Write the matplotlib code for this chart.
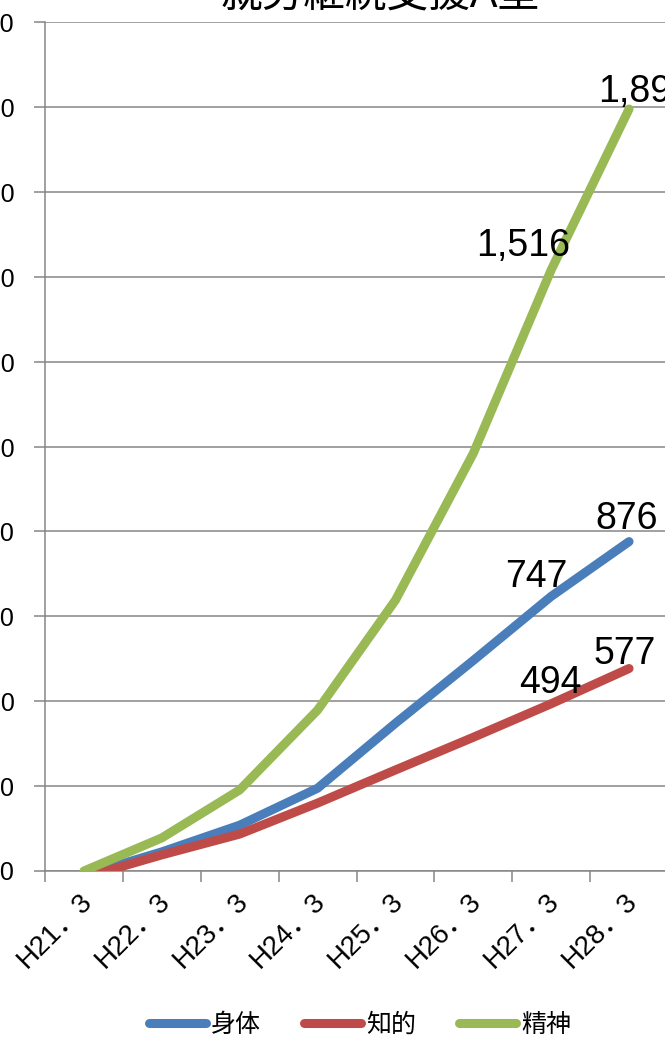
import matplotlib
matplotlib.use("Agg")
import matplotlib.pyplot as plt
import matplotlib.transforms as mtransforms
from matplotlib.ticker import FixedLocator, FuncFormatter

plt.rcParams['font.family'] = ['Liberation Sans', 'Noto Sans CJK JP', 'DejaVu Sans']

# datos
categorias = ['H21．3', 'H22．3', 'H23．3', 'H24．3', 'H25．3', 'H26．3', 'H27．3', 'H28．3']
shintai = [90, 145, 208, 295, 448, 596, 747, 876]
chiteki = [85, 138, 187, 260, 338, 415, 494, 577]
seishin = [100, 178, 291, 479, 738, 1084, 1516, 1895]
series_names = ['身体', '知的', '精神']
colores = ['#4A7EBB', '#BE4B48', '#98B954']
titulo = '就労継続支援A型'

W, H = 665, 1041
fig = plt.figure(figsize=(W / 100, H / 100), dpi=100)
ax = fig.add_axes([45 / W, (H - 871) / H, (668 - 45) / W, (871 - 22) / H])

x = list(range(len(categorias)))
lw = 6.5
for vals, nombre, c in zip([shintai, chiteki, seishin], series_names, colores):
    ax.plot(x, vals, color=c, lw=lw, solid_capstyle='round', solid_joinstyle='round',
            label=nombre, zorder=3)

# etiquetas de datos (offset en pixeles)
etiquetas = [
    (6, seishin[6], -28, 14, 'center'),
    (7, seishin[7], -31, 7, 'left'),
    (6, shintai[6], -15, 9, 'center'),
    (7, shintai[7], -2, 13, 'center'),
    (6, chiteki[6], -1, 11, 'center'),
    (7, chiteki[7], -4, 5, 'center'),
]
for i, v, dx, dy, ha in etiquetas:
    ax.annotate(f'{v:,}', (i, v), xytext=(dx, dy), textcoords='offset pixels',
                ha=ha, va='baseline', fontsize=27, color='black', zorder=4,
                annotation_clip=False)

ax.set_xlim(-0.5, 7.5)
ax.set_ylim(100, 2100)
ax.set_yticks(range(100, 2101, 200))
ax.yaxis.set_major_formatter(FuncFormatter(lambda v, p: f'{int(v):,}'))
ax.grid(axis='y', color='#868686', lw=1.1, zorder=1)
ax.set_axisbelow(True)

# etiquetas del eje x a mano (rotadas 45)
ax.set_xticks(x)
ax.set_xticklabels([])
desplazo = mtransforms.ScaledTranslation(-5 / 100, -17 / 100, fig.dpi_scale_trans)
for i, lab in zip(x, categorias):
    ax.text(i, 0, lab, transform=ax.get_xaxis_transform() + desplazo, rotation=45,
            rotation_mode='anchor', ha='right', va='top', fontsize=20, clip_on=False)
ax.xaxis.set_minor_locator(FixedLocator([i - 0.5 for i in range(len(categorias) + 1)]))
ax.tick_params(axis='x', which='major', length=0)
ax.tick_params(axis='x', which='minor', length=8, width=1.1, color='#868686')
ax.tick_params(axis='y', length=8, width=1.1, color='#868686', pad=14, labelsize=18)

for s in ['top', 'right']:
    ax.spines[s].set_visible(False)
for s in ['left', 'bottom']:
    ax.spines[s].set_color('#868686')
    ax.spines[s].set_linewidth(1.1)

fig.text(380 / W, 1 - 16 / H, titulo, ha='center', va='bottom', fontsize=30)

fig.legend(loc='center', bbox_to_anchor=(360 / W, 1 - 1025 / H), ncol=3, frameon=False,
           fontsize=18, handlelength=2.3, handletextpad=0.2, columnspacing=1.7)

fig.savefig('out.png', dpi=100)
